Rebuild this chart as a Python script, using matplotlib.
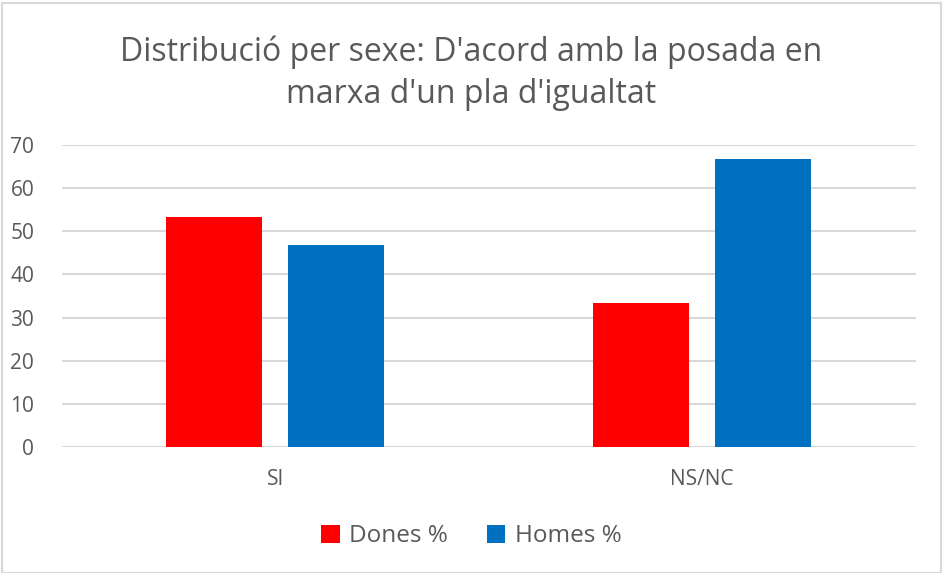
import matplotlib.pyplot as plt
import numpy as np
from matplotlib.patches import Rectangle

categories = ["SI", "NS/NC"]
dones = [53.3, 33.3]
homes = [46.7, 66.7]
series_labels = ["Dones %", "Homes %"]

plt.rcParams['font.family'] = ['Open Sans', 'DejaVu Sans']
grey = '#595959'

fig = plt.figure(figsize=(9.43, 5.73), dpi=100)
ax = fig.add_axes([0.0657, 0.22, 0.9053, 0.527])

x = np.arange(len(categories))
w = 0.225
off = 0.143
ax.bar(x - off, dones, w, color='#ff0000', label=series_labels[0], zorder=3)
ax.bar(x + off, homes, w, color='#0070c0', label=series_labels[1], zorder=3)

ax.set_xlim(-0.5, 1.5)
ax.set_ylim(0, 70)
ax.set_yticks(range(0, 71, 10))
ax.set_xticks(x)
ax.set_xticklabels(categories)
ax.grid(axis='y', color='#d9d9d9', linewidth=1.5, zorder=0)
ax.tick_params(length=0, colors=grey, labelsize=15)
ax.tick_params(axis='x', pad=16)
ax.tick_params(axis='y', pad=20)
for s in ax.spines.values():
    s.set_visible(False)

fig.text(0.5, 0.872, "Distribució per sexe: D'acord amb la posada en\nmarxa d'un pla d'igualtat",
         ha='center', va='center', fontsize=23, color=grey, linespacing=1.35)

leg = fig.legend(loc='center', bbox_to_anchor=(0.5, 0.064), ncol=2, frameon=False,
                 fontsize=17.5, handlelength=0.75, handleheight=0.75, columnspacing=1.6,
                 handletextpad=0.4)
for t in leg.get_texts():
    t.set_color(grey)

fig.patches.append(Rectangle((0.002, 0.0), 0.996, 0.995, transform=fig.transFigure,
                             fill=False, edgecolor='#d9d9d9', linewidth=1.5))

fig.savefig('out.png', dpi=100)
